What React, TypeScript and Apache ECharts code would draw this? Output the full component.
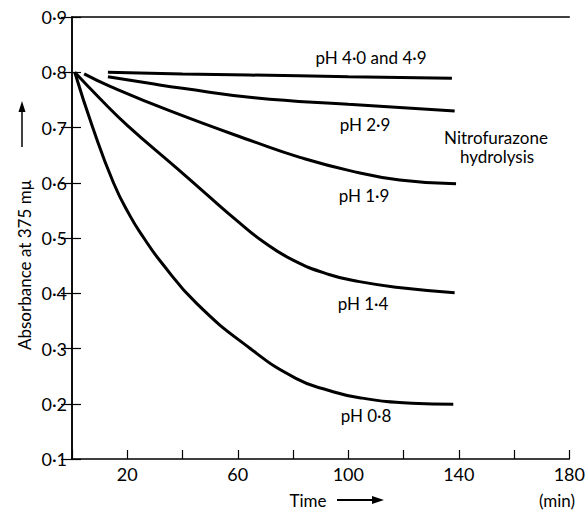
import React, { useEffect, useRef } from "react";
import * as echarts from "echarts";

const xTicks = [0, 20, 40, 60, 80, 100, 120, 140, 160, 180];
const xLabelValues = [20, 60, 100, 140, 180];
const yTickLabels = ["0·1", "0·2", "0·3", "0·4", "0·5", "0·6", "0·7", "0·8", "0·9"];

const ph40: [number, number][] = [[13, 0.8], [40, 0.797], [64, 0.795], [100, 0.792], [137.5, 0.789]];
const ph29: [number, number][] = [[13, 0.792], [28, 0.78], [40, 0.771], [66, 0.754], [100, 0.742], [138.5, 0.73]];
const ph19: [number, number][] = [[4.4, 0.797], [14, 0.774], [35.5, 0.73], [66, 0.674], [82.5, 0.646], [100.5, 0.622], [118.6, 0.605], [139, 0.598]];
const ph14: [number, number][] = [[1, 0.8], [10, 0.753], [20, 0.704], [38, 0.626], [48, 0.582], [60, 0.53], [69, 0.494], [80, 0.46], [93, 0.434], [104, 0.421], [119, 0.41], [138.5, 0.401]];
const ph08: [number, number][] = [[1, 0.8], [7.5, 0.7], [15, 0.6], [21, 0.54], [26, 0.5], [32, 0.458], [45, 0.382], [64.5, 0.3], [81, 0.246], [93, 0.224], [104, 0.211], [123, 0.201], [138, 0.199]];

const curveLabels = [
  { text: "pH 4·0 and 4·9", x: 371, y: 57 },
  { text: "pH 2·9", x: 365, y: 124 },
  { text: "Nitrofurazone", x: 496, y: 137 },
  { text: "hydrolysis", x: 497, y: 156 },
  { text: "pH 1·9", x: 364, y: 195 },
  { text: "pH 1·4", x: 363, y: 303 },
  { text: "pH 0·8", x: 366, y: 415 },
];

const FONT = "Lato, 'Open Sans', sans-serif";

export default function App() {
  const ref = useRef<HTMLDivElement>(null);
  useEffect(() => {
    if (!ref.current) return;
    const chart = echarts.init(ref.current, null, { renderer: "svg" });
    const lineSeries = (data: [number, number][]) => ({
      type: "line",
      data,
      smooth: 0.5,
      showSymbol: false,
      symbol: "none",
      lineStyle: { color: "#000", width: 3 },
      xAxisIndex: 0,
      yAxisIndex: 0,
    });
    const axisCommon = {
      axisLine: { show: true, lineStyle: { color: "#000", width: 1.5 } },
      splitLine: { show: false },
    };
    chart.setOption({
      animation: false,
      backgroundColor: "#fff",
      grid: { left: 72, right: 18, top: 17, bottom: 51 },
      xAxis: [
        {
          type: "value",
          min: xTicks[0],
          max: xTicks[xTicks.length - 1],
          interval: 20,
          ...axisCommon,
          axisTick: { show: true, inside: true, length: 9, lineStyle: { color: "#000", width: 1.2 } },
          axisLabel: {
            color: "#000",
            fontSize: 18,
            fontFamily: FONT,
            margin: 6,
            formatter: (v: number) => (xLabelValues.includes(v) ? String(v) : ""),
          },
        },
        {
          type: "value",
          position: "top",
          min: xTicks[0],
          max: xTicks[xTicks.length - 1],
          interval: 20,
          ...axisCommon,
          axisTick: { show: false },
          axisLabel: { show: false },
        },
      ],
      yAxis: [
        {
          type: "value",
          min: 0.1,
          max: 0.9,
          interval: 0.1,
          ...axisCommon,
          axisTick: { show: true, inside: true, length: 9, lineStyle: { color: "#000", width: 1.2 } },
          axisLabel: {
            color: "#000",
            fontSize: 18,
            fontFamily: FONT,
            margin: 5,
            formatter: (v: number) => yTickLabels[Math.round(v * 10) - 1] ?? "",
          },
        },
        {
          type: "value",
          position: "right",
          min: 0.1,
          max: 0.9,
          interval: 0.1,
          ...axisCommon,
          axisTick: { show: true, inside: true, length: 11, lineStyle: { color: "#000", width: 1.2 } },
          axisLabel: { show: false },
        },
      ],
      series: [lineSeries(ph40), lineSeries(ph29), lineSeries(ph19), lineSeries(ph14), lineSeries(ph08)],
      graphic: [
        ...curveLabels.map((l) => ({
          type: "text",
          x: l.x,
          y: l.y,
          style: { text: l.text, fill: "#000", fontSize: 17, fontFamily: FONT, textAlign: "center", textVerticalAlign: "middle" },
        })),
        {
          type: "text",
          x: 24,
          y: 350,
          rotation: Math.PI / 2,
          style: { text: "Absorbance at 375 mμ", fill: "#000", fontSize: 17, fontFamily: FONT, textAlign: "left", textVerticalAlign: "middle" },
        },
        { type: "line", shape: { x1: 22, y1: 147, x2: 22, y2: 108 }, style: { stroke: "#000", lineWidth: 1.5 } },
        { type: "polygon", shape: { points: [[22, 101], [18.5, 112], [25.5, 112]] }, style: { fill: "#000" } },
        {
          type: "text",
          x: 308,
          y: 500,
          style: { text: "Time", fill: "#000", fontSize: 17, fontFamily: FONT, textAlign: "center", textVerticalAlign: "middle" },
        },
        { type: "line", shape: { x1: 337, y1: 500, x2: 376, y2: 500 }, style: { stroke: "#000", lineWidth: 2 } },
        { type: "polygon", shape: { points: [[384, 500], [372, 496], [372, 504]] }, style: { fill: "#000" } },
        {
          type: "text",
          x: 557,
          y: 500,
          style: { text: "(min)", fill: "#000", fontSize: 17, fontFamily: FONT, textAlign: "center", textVerticalAlign: "middle" },
        },
      ],
    });
    return () => chart.dispose();
  }, []);
  return <div ref={ref} style={{ position: "fixed", left: 0, top: 0, width: 588, height: 510 }} />;
}
